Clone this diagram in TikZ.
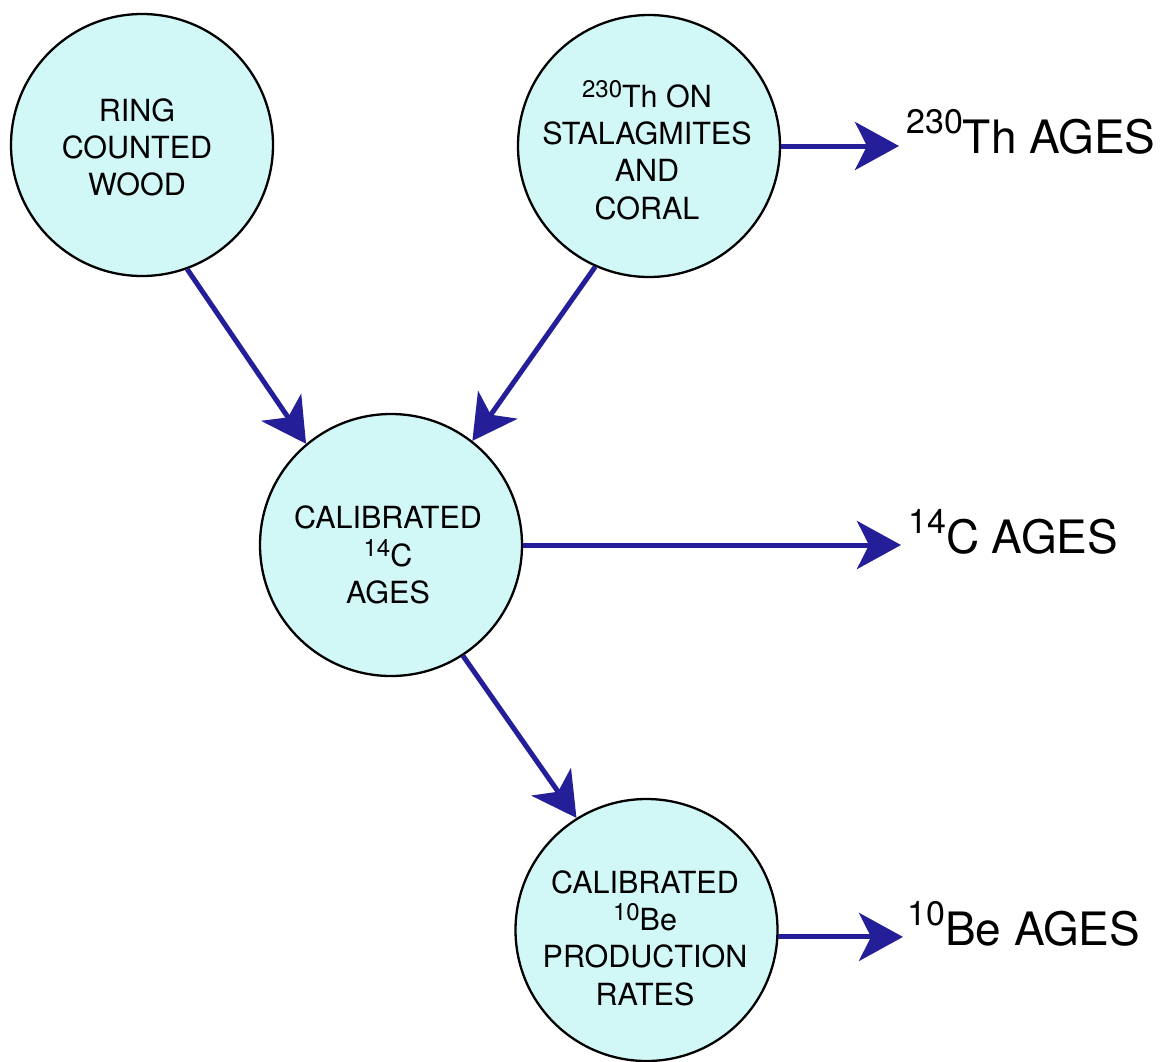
\documentclass[tikz,border=0pt]{standalone}
\usepackage{fontspec}
\setmainfont{TeX Gyre Heros}
\usetikzlibrary{arrows.meta}
\definecolor{cfill}{RGB}{210,247,247}
\definecolor{arrblue}{RGB}{36,30,152}
\newcommand\isupx[1]{\raisebox{10pt}{\fontsize{24}{24}\selectfont #1}}
\newcommand\osupx[1]{\raisebox{20pt}{\fontsize{34}{34}\selectfont #1}}
\tikzset{
  circ/.style={circle, draw=black, line width=2.3pt, fill=cfill, minimum size=262pt, inner sep=0pt},
  intext/.style={align=center, inner sep=0pt, font=\fontsize{30.5}{37.3}\selectfont},
  outlab/.style={anchor=base west, inner sep=0pt, font=\fontsize{46}{46}\selectfont},
  arr/.style={draw=arrblue, line width=5pt, -{Stealth[length=44pt, width=48pt, inset=12pt]}, color=arrblue}
}
\begin{document}
\begin{tikzpicture}[x=1pt, y=-1pt]
\useasboundingbox (0,0) rectangle (1167,1061);
% circles
\node[circ] (wood) at (142,145) {};
\node[circ] (th) at (649,146) {};
\node[circ] (cal) at (391,545) {};
\node[circ] (ber) at (646.5,930) {};
% texts inside
\node[intext] (woodtxt) at (137,147.5) {RING\\COUNTED\\WOOD};
\node[intext] (thtxt) at (647,150) {\isupx{230}Th ON\\STALAGMITES\\AND\\CORAL};
\node[intext] (caltxt) at (388,555) {CALIBRATED\\\isupx{14}C\\AGES};
\node[intext] (bertxt) at (645,938) {CALIBRATED\\\isupx{10}Be\\PRODUCTION\\RATES};
% outside labels
\node[outlab] (thlab) at (906,153) {\osupx{230}Th AGES};
\node[outlab] (clab) at (908,553) {\osupx{14}C AGES};
\node[outlab] (belab) at (907,945) {\osupx{10}Be AGES};
% arrow end points
\coordinate (thtip) at (899,148);
\coordinate (ctip) at (901,547);
\coordinate (betip) at (903,937);
% connectors
\draw[arr] (wood.-70) -- (cal.130);
\draw[arr] (th.-114) -- (cal.52);
\draw[arr] (cal.-57) -- (ber.122);
\draw[arr] (th.east) -- (th.east -| thtip);
\draw[arr] (cal.-0.5) -- (cal.-0.5 -| ctip);
\draw[arr] (ber.-3) -- (ber.-3 -| betip);
\end{tikzpicture}
\end{document}
